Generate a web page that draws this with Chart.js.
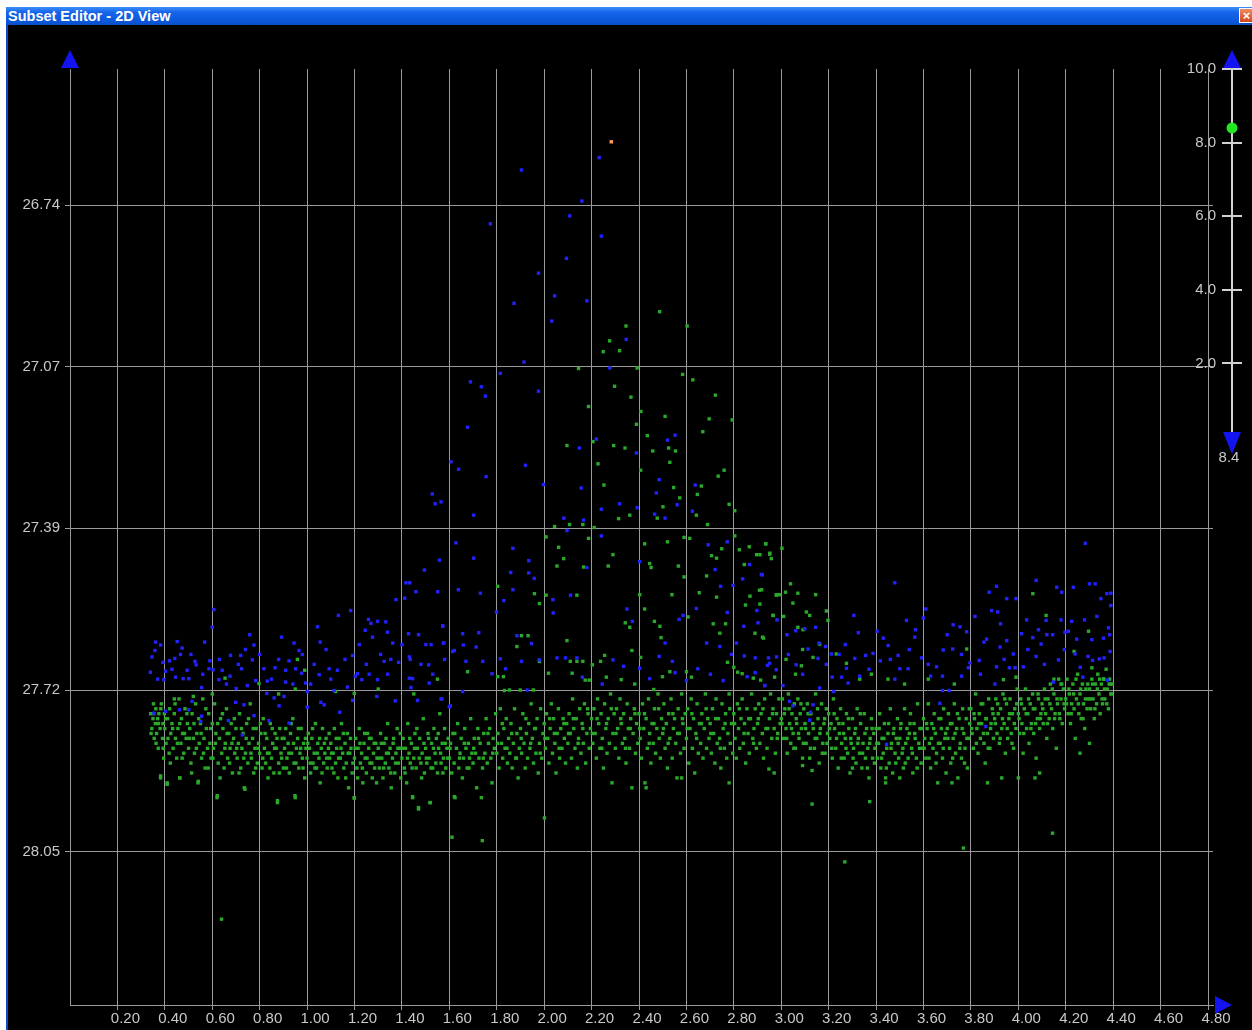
<!DOCTYPE html>
<html>
<head>
<meta charset="utf-8">
<title>Subset Editor - 2D View</title>
<script src="https://cdn.jsdelivr.net/npm/chart.js@4.4.1/dist/chart.umd.min.js"></script>
<style>
  body { margin: 0; background: #fff; width: 1252px; height: 1030px; position: relative; overflow: hidden; }
  #frame { position: absolute; left: 6px; top: 7px; width: 2px; height: 1023px; background: #1548c8; }
  #win { position: absolute; left: 8px; top: 25px; width: 1244px; height: 1005px; background: #000; }
  #titlebar {
    position: absolute; left: 6px; top: 7px; width: 1246px; height: 18px;
    background: linear-gradient(#3d8ef8 0%, #1664ea 30%, #0b59dc 75%, #0a4fc9 100%);
    color: #fff; font: bold 14.5px "Liberation Sans", Arial, sans-serif; line-height: 18px;
    padding-left: 2px; box-sizing: border-box; white-space: nowrap;
  }
  #closebtn {
    position: absolute; left: 1239px; top: 8px; width: 15px; height: 15px;
    background: linear-gradient(#ef8a62, #d4461e); border: 1px solid #fff; box-sizing: border-box;
    color: #fff; font: bold 13px "Liberation Sans", Arial, sans-serif; line-height: 13px; text-align: center;
  }
  #plot { position: absolute; left: 8px; top: 25px; }
  #slider { position: absolute; left: 1160px; top: 40px; }
</style>
</head>
<body>
<div id="frame"></div>
<div id="win"></div>
<div id="titlebar">Subset Editor - 2D View</div>
<div id="closebtn">×</div>
<canvas id="plot" width="1244" height="1005"></canvas>
<canvas id="slider" width="92" height="440"></canvas>
<script>
// axis ticks
const xTicks = [0.20, 0.40, 0.60, 0.80, 1.00, 1.20, 1.40, 1.60, 1.80, 2.00, 2.20, 2.40,
    2.60, 2.80, 3.00, 3.20, 3.40, 3.60, 3.80, 4.00, 4.20, 4.40, 4.60, 4.80];
const yTicks = [26.74, 27.0675, 27.394, 27.7225, 28.05];
const sliderTicks = [2, 4, 6, 8, 10];
const sliderValue = 8.4;

// selected point (orange)
const flaggedPoints = [[2.283, 26.612]];

// blue series [x, y]
const bluePoints = [
    // peak
    [2.232,26.644],[1.904,26.669],[2.159,26.732],[2.108,26.762],[1.773,26.778],[2.241,26.803],[2.094,26.848],
    [1.976,26.878],[2.044,26.924],[2.180,26.934],[1.873,26.939],[2.032,26.975],[2.346,27.012],[1.915,27.058],
    [1.815,27.081],[2.277,27.070],[1.689,27.098],[1.735,27.108],[1.752,27.127],[1.976,27.117],[1.677,27.190],
    [2.552,27.206],[2.520,27.216],[2.220,27.214],[2.148,27.232],[2.389,27.242],
    [1.528,27.325],[1.540,27.345],[1.433,27.505],[1.412,27.536],[1.495,27.479],[1.558,27.459],
    // middle
    [1.607,27.260],[1.639,27.275],[1.755,27.290],[1.921,27.267],[1.997,27.306],[2.156,27.313],[1.703,27.368],
    [1.565,27.341],[2.083,27.374],[2.166,27.378],[2.241,27.356],[2.318,27.345],[2.392,27.353],[2.485,27.296],
    [2.473,27.323],[2.561,27.347],[2.466,27.366],[2.510,27.374],[2.637,27.307],[2.625,27.360],[2.096,27.399],
    [1.628,27.424],[1.703,27.455],[1.868,27.435],[1.935,27.460],[2.241,27.410],[2.403,27.462],[2.180,27.474],
    [1.859,27.484],[1.958,27.496],[1.935,27.485],[1.638,27.519],[1.731,27.526],[1.868,27.519],[1.830,27.541],
    [2.037,27.539],[2.111,27.530],[2.038,27.566],[1.799,27.564],[1.572,27.593],[1.656,27.608],[1.724,27.606],
    [1.614,27.644],[1.659,27.631],[1.713,27.635],[1.577,27.627],[1.670,27.664],[1.741,27.664],[1.815,27.659],
    [1.904,27.664],[1.885,27.612],[1.946,27.628],[1.979,27.661],[1.780,27.689],[1.837,27.679],[2.054,27.657],
    [2.090,27.657],[2.138,27.657],[2.290,27.661],[2.335,27.674],[2.349,27.558],[2.372,27.583],[2.403,27.678],
    [2.485,27.654],[2.510,27.627],[2.541,27.664],[2.552,27.687],[2.445,27.699],[2.600,27.703],[2.648,27.679],
    [2.692,27.428],[2.772,27.422],[2.721,27.478],[2.744,27.512],[2.642,27.557],[2.586,27.571],[2.569,27.579],
    [2.685,27.627],[2.741,27.634],[2.772,27.565],[2.796,27.510],[2.837,27.497],[2.866,27.468],[2.916,27.488],
    [2.897,27.561],[2.842,27.593],[2.902,27.586],[2.811,27.627],[2.790,27.650],[2.844,27.653],[2.890,27.657],
    [2.942,27.672],[2.946,27.657],[2.980,27.655],[2.890,27.687],[2.856,27.695],[2.930,27.713],[2.755,27.703],
    [2.701,27.690],[1.928,27.722],[1.656,27.725],[1.565,27.740],[1.600,27.756],[2.245,27.710],[2.161,27.696],
    // left band
    [0.361,27.625],[0.382,27.631],[0.358,27.642],[0.346,27.655],[0.392,27.666],[0.420,27.663],[0.442,27.658],
    [0.452,27.624],[0.473,27.637],[0.466,27.650],[0.339,27.686],[0.403,27.684],[0.396,27.701],[0.445,27.696],
    [0.477,27.699],[0.501,27.699],[0.494,27.682],[0.527,27.664],[0.532,27.671],[0.568,27.625],[0.607,27.559],
    [0.600,27.595],[0.590,27.663],[0.586,27.679],[0.603,27.681],[0.555,27.717],[0.642,27.682],[0.628,27.701],
    [0.677,27.652],[0.720,27.652],[0.675,27.694],[0.701,27.719],[0.724,27.679],[0.758,27.610],[0.776,27.631],
    [0.769,27.661],[0.748,27.713],[0.783,27.703],[0.818,27.679],[0.832,27.704],[0.865,27.677],[0.892,27.615],
    [0.910,27.682],[0.945,27.627],[0.966,27.642],[0.924,27.663],[0.952,27.679],[0.910,27.706],[0.903,27.735],
    [0.830,27.729],[0.861,27.738],[0.882,27.754],[0.839,27.784],[0.776,27.774],[0.668,27.784],[0.699,27.747],
    [0.734,27.752],[0.515,27.745],[0.501,27.762],[0.555,27.775],[0.551,27.786],[0.462,27.762],[0.403,27.765],
    [0.354,27.769],[0.727,27.813],[0.924,27.789],[0.977,27.688],[0.994,27.708],[1.015,27.710],[1.051,27.691],
    [1.044,27.594],[1.055,27.625],[1.093,27.679],[1.128,27.682],[1.132,27.571],[1.184,27.561],[1.192,27.652],
    [1.203,27.694],[1.213,27.689],[1.170,27.716],[1.114,27.723],[1.001,27.725],[1.001,27.757],[1.058,27.747],
    [1.072,27.752],[1.138,27.767],[1.192,27.743],[1.259,27.579],[1.269,27.587],[1.297,27.583],[1.332,27.584],
    [1.245,27.601],[1.276,27.615],[1.339,27.605],[1.361,27.627],[1.325,27.664],[1.353,27.660],[1.386,27.666],
    [1.262,27.690],[1.297,27.701],[1.231,27.701],[1.294,27.735],[1.372,27.744],[1.375,27.539],[1.417,27.505],
    [1.459,27.523],[1.551,27.523],[1.572,27.592],[1.428,27.608],[1.470,27.610],[1.501,27.630],[1.523,27.630],
    [1.575,27.627],[1.621,27.642],[1.431,27.655],[1.435,27.660],[1.513,27.671],[1.431,27.698],[1.445,27.699],
    [1.515,27.708],[1.438,27.717],[1.466,27.743],[1.569,27.740],[1.604,27.754],
    [0.37,27.70],[0.43,27.68],[0.51,27.65],[0.56,27.69],[0.63,27.66],[0.66,27.71],[0.71,27.67],[0.74,27.64],
    [0.80,27.65],[0.85,27.70],[0.88,27.66],[0.94,27.71],[0.98,27.65],[1.03,27.67],[1.08,27.64],[1.10,27.70],
    [1.16,27.66],[1.22,27.63],[1.25,27.67],[1.31,27.65],[1.34,27.69],[1.40,27.63],[1.48,27.67],[1.53,27.69],
    [1.58,27.66],
    // right band
    [2.920,27.489],[2.982,27.580],[3.024,27.610],[2.951,27.668],[2.979,27.681],[2.930,27.713],[3.007,27.713],
    [3.063,27.671],[3.049,27.754],[3.035,27.745],[3.134,27.752],[3.123,27.767],[3.120,27.783],[3.061,27.602],
    [3.099,27.598],[3.145,27.595],[3.159,27.627],[3.113,27.639],[3.155,27.658],[3.187,27.634],[3.211,27.649],
    [3.244,27.650],[3.215,27.696],[3.254,27.696],[3.282,27.708],[3.162,27.718],[3.221,27.725],[3.306,27.571],
    [3.325,27.606],[3.275,27.678],[3.310,27.658],[3.331,27.694],[3.356,27.652],[3.387,27.648],[3.404,27.603],
    [3.430,27.617],[3.451,27.632],[3.479,27.505],[3.418,27.663],[3.479,27.700],[3.444,27.832],[3.528,27.581],
    [3.563,27.615],[3.566,27.600],[3.599,27.576],[3.610,27.558],[3.493,27.652],[3.500,27.679],[3.535,27.679],
    [3.592,27.657],[3.655,27.675],[3.683,27.641],[3.680,27.694],[3.630,27.694],[3.680,27.723],[3.708,27.723],
    [3.723,27.639],[3.725,27.590],[3.754,27.594],[3.782,27.604],[3.761,27.694],[3.669,27.749],[3.796,27.667],
    [3.789,27.677],[3.817,27.573],[3.835,27.662],[3.855,27.625],[3.866,27.619],[3.877,27.524],[3.908,27.512],
    [3.887,27.561],[3.913,27.564],[3.925,27.588],[3.923,27.635],[3.951,27.622],[3.951,27.537],[3.990,27.537],
    [3.979,27.649],[3.908,27.675],[3.962,27.677],[3.986,27.677],[3.901,27.710],[3.863,27.796],[4.021,27.675],
    [4.035,27.580],[4.014,27.608],[4.061,27.616],[4.075,27.500],[4.085,27.600],[4.096,27.629],[4.075,27.654],
    [4.117,27.581],[4.120,27.610],[4.145,27.610],[4.162,27.514],[4.183,27.524],[4.197,27.605],[4.211,27.603],
    [4.194,27.640],[4.169,27.661],[4.148,27.706],[4.282,27.425],[4.300,27.507],[4.232,27.514],[4.225,27.583],
    [4.279,27.580],[4.246,27.619],[4.239,27.649],[4.294,27.654],[4.261,27.676],[4.272,27.696],[4.331,27.573],
    [4.348,27.537],[4.373,27.527],[4.390,27.551],[4.380,27.596],[4.359,27.617],[4.385,27.610],[4.387,27.644],
    [4.362,27.657],[4.376,27.702],[4.341,27.659],[4.313,27.662],[4.390,27.526],[4.324,27.507],
    [3.03,27.65],[3.09,27.69],[3.19,27.67],[3.27,27.63],[3.37,27.68],[3.46,27.66],[3.54,27.64],[3.62,27.67],
    [3.70,27.61],[3.76,27.65],[3.84,27.69],[3.94,27.66],[4.04,27.64],[4.11,27.67],[4.18,27.58],[4.31,27.62]
];

// green series [x, y]
const greenPoints = [
    // peak
    [2.487,26.956],[2.345,26.985],[2.603,26.985],[2.276,27.015],[2.249,27.037],[2.318,27.035],[2.145,27.071],
    [2.392,27.070],[2.584,27.083],[2.627,27.094],[2.297,27.107],[2.366,27.129],[2.722,27.125],[2.187,27.148],
    [2.408,27.158],[2.510,27.168],[2.696,27.173],[2.793,27.175],[2.389,27.184],[2.669,27.199],[2.435,27.207],
    [2.206,27.219],[2.096,27.227],[2.293,27.227],[2.341,27.232],[2.458,27.238],[2.525,27.232],[2.554,27.238],
    // middle
    [2.227,27.264],[2.252,27.307],[2.407,27.277],[2.530,27.261],[2.546,27.312],[2.572,27.333],[2.646,27.326],
    [2.663,27.309],[2.734,27.289],[2.759,27.277],[2.780,27.346],[2.804,27.359],[2.642,27.368],[2.689,27.387],
    [2.501,27.351],[2.477,27.374],[2.361,27.368],[2.314,27.375],[2.044,27.391],[2.107,27.387],[2.163,27.387],
    [2.211,27.393],[2.008,27.412],[2.187,27.415],[2.061,27.433],[2.082,27.456],[2.054,27.471],[2.166,27.473],
    [2.290,27.448],[2.270,27.471],[2.445,27.466],[2.451,27.474],[2.424,27.426],[2.520,27.422],[2.590,27.413],
    [2.614,27.415],[2.566,27.471],[2.590,27.493],[2.539,27.529],[2.403,27.529],[2.424,27.558],[2.342,27.586],
    [2.361,27.595],[2.465,27.583],[2.488,27.593],[2.493,27.616],[2.370,27.642],[2.407,27.656],[2.607,27.574],
    [2.685,27.491],[2.706,27.450],[2.727,27.455],[2.749,27.436],[2.804,27.410],[2.823,27.438],[2.844,27.468],
    [2.865,27.432],[2.896,27.448],[2.910,27.448],[2.935,27.426],[2.952,27.445],[2.849,27.550],[2.868,27.532],
    [2.917,27.519],[2.910,27.548],[2.889,27.607],[2.921,27.615],[2.966,27.571],[2.980,27.530],[2.654,27.525],
    [2.727,27.534],[2.713,27.588],[2.765,27.588],[2.741,27.607],[2.773,27.666],[2.800,27.676],[2.816,27.686],
    [2.835,27.689],[2.882,27.698],[2.913,27.702],[2.600,27.685],[2.621,27.696],[2.530,27.685],[2.499,27.695],
    [2.462,27.721],[2.382,27.710],[2.325,27.701],[2.262,27.696],[2.238,27.664],[2.255,27.652],[2.203,27.671],
    [2.173,27.702],[2.190,27.702],[2.163,27.664],[2.138,27.664],[2.110,27.664],[2.118,27.688],[2.018,27.688],
    [1.980,27.664],[1.959,27.527],[1.980,27.547],[2.008,27.530],[2.138,27.530],[1.804,27.512],[2.096,27.622],
    [1.885,27.634],[1.904,27.612],[1.932,27.612],[1.677,27.685],[1.804,27.695],[1.828,27.695],[1.832,27.723],
    [1.854,27.722],[1.899,27.722],[1.954,27.722],
    // shoulder and upper edge of the band
    [2.908,27.520],[2.934,27.426],[2.951,27.447],[2.958,27.456],[3.003,27.435],[2.979,27.529],[2.993,27.529],
    [3.018,27.524],[3.039,27.507],[3.070,27.526],[3.145,27.529],[3.049,27.546],[3.106,27.564],[3.120,27.571],
    [3.190,27.562],[3.197,27.581],[3.070,27.595],[3.092,27.600],[2.925,27.617],[3.162,27.629],[2.965,27.571],
    [3.010,27.573],[3.232,27.649],[3.134,27.656],[3.085,27.673],[2.972,27.696],[3.275,27.668],[3.331,27.700],
    [3.38,27.69],[3.45,27.70],[3.52,27.71],[3.62,27.70],[3.782,27.639],[3.937,27.701],[3.990,27.696],
    [4.061,27.527],[4.117,27.571],[4.296,27.603],[4.235,27.644],[4.310,27.677],[4.15,27.70],[4.18,27.71],
    [4.36,27.70],[4.39,27.71],[3.73,27.71],
    [0.959,27.660],[0.990,27.682],[0.797,27.709],[0.654,27.698],[0.95,27.72],[1.12,27.725],[1.199,27.729],
    [0.60,27.73],[0.52,27.735],[0.44,27.74],[1.30,27.72],[1.45,27.73],[1.55,27.70],[0.88,27.73],
    // outliers
    [0.382,27.896],[0.410,27.913],[0.463,27.900],[0.541,27.907],[0.621,27.936],[0.738,27.923],[0.875,27.946],
    [0.949,27.936],[1.199,27.941],[1.470,27.963],[1.518,27.950],[1.621,27.938],[1.611,28.020],[1.445,27.938],
    [0.639,28.186],[1.739,28.027],[2.001,27.981],[2.286,27.91],[2.43,27.92],[2.58,27.90],[2.78,27.91],
    [2.97,27.89],[3.130,27.953],[3.373,27.948],[3.268,28.070],[3.768,28.042],[4.144,28.012],[2.948,27.882],
    [3.09,27.875],[3.13,27.885],[3.30,27.88],[3.44,27.90],[3.50,27.90],[3.72,27.91],[3.93,27.90],[4.00,27.90],
    [4.07,27.90],[4.09,27.89],[3.87,27.91],[4.26,27.85],[4.30,27.83],
    // main band
    [0.34,27.77],[0.345,27.80],[0.35,27.78],[0.352,27.75],[0.355,27.82],[0.36,27.79],[0.362,27.76],[0.365,27.81],
    [0.37,27.78],[0.372,27.84],[0.375,27.77],[0.38,27.80],[0.382,27.90],[0.385,27.75],[0.39,27.82],[0.392,27.79],
    [0.395,27.86],[0.398,27.77],
    [0.40,27.80],[0.405,27.83],[0.41,27.91],[0.412,27.78],[0.418,27.85],[0.42,27.76],[0.425,27.81],[0.43,27.79],
    [0.435,27.84],[0.44,27.77],[0.445,27.82],[0.45,27.86],[0.455,27.80],[0.46,27.74],[0.463,27.90],[0.468,27.83],
    [0.47,27.78],[0.475,27.81],[0.48,27.85],[0.485,27.76],[0.49,27.82],[0.495,27.79],
    [0.50,27.84],[0.505,27.80],[0.51,27.87],[0.515,27.77],[0.52,27.82],[0.525,27.85],[0.53,27.75],[0.535,27.81],
    [0.54,27.91],[0.545,27.83],[0.55,27.79],[0.555,27.86],[0.56,27.74],[0.565,27.82],[0.57,27.88],[0.575,27.80],
    [0.58,27.84],[0.585,27.77],[0.59,27.83],[0.595,27.86],
    [0.60,27.79],[0.605,27.84],[0.61,27.75],[0.615,27.81],[0.62,27.94],[0.625,27.87],[0.63,27.82],[0.635,27.78],
    [0.64,27.85],[0.645,27.80],[0.65,27.88],[0.655,27.83],[0.66,27.76],[0.665,27.86],[0.67,27.81],[0.675,27.84],
    [0.68,27.79],[0.685,27.89],[0.69,27.82],[0.695,27.85],
    [0.70,27.80],[0.705,27.86],[0.71,27.83],[0.715,27.77],[0.72,27.88],[0.725,27.84],[0.73,27.81],[0.735,27.92],
    [0.74,27.85],[0.745,27.79],[0.75,27.87],[0.755,27.83],[0.76,27.75],[0.765,27.86],[0.77,27.82],[0.775,27.89],
    [0.78,27.84],[0.785,27.80],[0.79,27.87],[0.795,27.83],
    [0.80,27.85],[0.805,27.81],[0.81,27.88],[0.815,27.78],[0.82,27.84],[0.825,27.87],[0.83,27.82],[0.835,27.90],
    [0.84,27.85],[0.845,27.79],[0.85,27.86],[0.855,27.83],[0.86,27.89],[0.865,27.81],[0.87,27.84],[0.875,27.95],
    [0.88,27.87],[0.885,27.80],[0.89,27.85],[0.895,27.82],
    [0.90,27.88],[0.905,27.84],[0.91,27.80],[0.915,27.86],[0.92,27.83],[0.925,27.89],[0.93,27.81],[0.935,27.85],
    [0.94,27.78],[0.945,27.87],[0.95,27.94],[0.955,27.84],[0.96,27.82],[0.965,27.88],[0.97,27.85],[0.975,27.80],
    [0.98,27.86],[0.985,27.83],[0.99,27.90],[0.995,27.84],
    [1.00,27.86],[1.005,27.81],[1.01,27.84],[1.015,27.89],[1.02,27.82],[1.025,27.87],[1.03,27.85],[1.035,27.79],
    [1.04,27.88],[1.045,27.83],[1.05,27.86],[1.055,27.91],[1.06,27.84],[1.065,27.80],[1.07,27.87],[1.075,27.85],
    [1.08,27.82],[1.085,27.88],[1.09,27.84],[1.095,27.86],
    [1.10,27.83],[1.105,27.88],[1.11,27.85],[1.115,27.80],[1.12,27.87],[1.125,27.84],[1.13,27.90],[1.135,27.82],
    [1.14,27.86],[1.145,27.79],[1.15,27.85],[1.155,27.88],[1.16,27.83],[1.165,27.87],[1.17,27.81],[1.175,27.92],
    [1.18,27.85],[1.185,27.84],[1.19,27.89],[1.199,27.94],
    [1.20,27.86],[1.205,27.82],[1.21,27.88],[1.215,27.84],[1.22,27.80],[1.225,27.87],[1.23,27.85],[1.235,27.91],
    [1.24,27.83],[1.245,27.86],[1.25,27.89],[1.255,27.81],[1.26,27.84],[1.265,27.87],[1.27,27.82],[1.275,27.90],
    [1.28,27.85],[1.285,27.88],[1.29,27.83],[1.295,27.86],
    [1.30,27.84],[1.305,27.88],[1.31,27.81],[1.315,27.86],[1.32,27.90],[1.325,27.83],[1.33,27.87],[1.335,27.85],
    [1.34,27.79],[1.345,27.88],[1.35,27.84],[1.355,27.92],[1.36,27.86],[1.365,27.82],[1.37,27.89],[1.375,27.85],
    [1.38,27.80],[1.385,27.87],[1.39,27.84],[1.395,27.90],
    [1.40,27.86],[1.405,27.82],[1.41,27.88],[1.415,27.84],[1.42,27.91],[1.425,27.79],[1.43,27.85],[1.435,27.87],
    [1.44,27.83],[1.445,27.94],[1.45,27.86],[1.455,27.81],[1.46,27.88],[1.465,27.84],[1.47,27.96],[1.475,27.82],
    [1.48,27.87],[1.485,27.85],[1.49,27.78],[1.495,27.89],
    [1.50,27.84],[1.505,27.87],[1.51,27.81],[1.515,27.86],[1.52,27.95],[1.525,27.83],[1.53,27.88],[1.535,27.80],
    [1.54,27.85],[1.545,27.82],[1.55,27.89],[1.555,27.84],[1.56,27.77],[1.565,27.87],[1.57,27.83],[1.575,27.86],
    [1.58,27.80],[1.585,27.88],[1.59,27.84],[1.595,27.82],
    [1.60,27.86],[1.605,27.83],[1.61,27.89],[1.615,27.81],[1.62,27.87],[1.624,27.94],[1.63,27.84],[1.635,27.79],
    [1.64,27.88],[1.645,27.85],[1.65,27.82],[1.655,27.90],[1.66,27.86],[1.665,27.80],[1.67,27.84],[1.675,27.88],
    [1.68,27.83],[1.685,27.86],[1.69,27.78],[1.695,27.85],
    [1.70,27.87],[1.705,27.82],[1.71,27.85],[1.715,27.92],[1.72,27.80],[1.725,27.86],[1.73,27.83],[1.735,27.94],
    [1.74,27.88],[1.745,27.81],[1.75,27.85],[1.755,27.78],[1.76,27.87],[1.765,27.83],[1.77,27.80],[1.775,27.86],
    [1.78,27.91],[1.785,27.82],[1.79,27.84],[1.795,27.77],
    [1.80,27.85],[1.805,27.81],[1.81,27.88],[1.815,27.76],[1.82,27.83],[1.825,27.86],[1.83,27.80],[1.835,27.84],
    [1.84,27.78],[1.845,27.87],[1.85,27.82],[1.855,27.85],[1.86,27.79],[1.865,27.88],[1.87,27.83],[1.875,27.76],
    [1.88,27.86],[1.885,27.81],[1.89,27.90],[1.895,27.84],
    [1.90,27.80],[1.905,27.85],[1.91,27.77],[1.915,27.83],[1.92,27.88],[1.925,27.81],[1.93,27.86],[1.935,27.79],
    [1.94,27.84],[1.945,27.75],[1.95,27.82],[1.955,27.87],[1.96,27.80],[1.965,27.85],[1.97,27.78],[1.975,27.89],
    [1.98,27.83],[1.985,27.76],[1.99,27.86],[1.995,27.81],
    [2.00,27.79],[2.005,27.84],[2.01,27.77],[2.015,27.82],[2.02,27.87],[2.025,27.80],[2.03,27.75],[2.035,27.85],
    [2.04,27.78],[2.045,27.83],[2.05,27.89],[2.055,27.81],[2.06,27.76],[2.065,27.86],[2.07,27.80],[2.075,27.84],
    [2.08,27.78],[2.085,27.82],[2.09,27.87],[2.095,27.79],
    [2.10,27.83],[2.105,27.77],[2.11,27.81],[2.115,27.86],[2.12,27.74],[2.125,27.80],[2.13,27.84],[2.135,27.78],
    [2.14,27.88],[2.145,27.82],[2.15,27.76],[2.155,27.85],[2.16,27.79],[2.165,27.83],[2.17,27.75],[2.175,27.87],
    [2.18,27.81],[2.185,27.77],[2.19,27.84],[2.195,27.80],
    [2.20,27.78],[2.205,27.83],[2.21,27.76],[2.215,27.81],[2.22,27.86],[2.225,27.74],[2.23,27.79],[2.235,27.84],
    [2.24,27.77],[2.245,27.82],[2.25,27.88],[2.255,27.75],[2.26,27.80],[2.265,27.85],[2.27,27.78],[2.275,27.83],
    [2.28,27.73],[2.29,27.81],[2.295,27.77],
    [2.30,27.84],[2.305,27.76],[2.31,27.80],[2.315,27.86],[2.32,27.74],[2.325,27.79],[2.33,27.83],[2.335,27.77],
    [2.34,27.82],[2.345,27.87],[2.35,27.75],[2.355,27.80],[2.36,27.84],[2.365,27.78],[2.37,27.92],[2.375,27.81],
    [2.38,27.76],[2.385,27.85],[2.39,27.79],[2.395,27.83],
    [2.40,27.77],[2.405,27.82],[2.41,27.86],[2.415,27.75],[2.42,27.80],[2.425,27.91],[2.43,27.78],[2.435,27.84],
    [2.44,27.74],[2.445,27.81],[2.45,27.87],[2.455,27.79],[2.46,27.83],[2.465,27.76],[2.47,27.85],[2.475,27.80],
    [2.48,27.73],[2.485,27.82],[2.49,27.86],[2.495,27.78],
    [2.50,27.81],[2.505,27.75],[2.51,27.84],[2.515,27.79],[2.52,27.88],[2.525,27.77],[2.53,27.82],[2.535,27.74],
    [2.54,27.86],[2.545,27.80],[2.55,27.78],[2.555,27.83],[2.56,27.90],[2.565,27.76],[2.57,27.81],[2.575,27.85],
    [2.58,27.73],[2.585,27.79],[2.59,27.84],[2.595,27.77],
    [2.60,27.82],[2.605,27.76],[2.61,27.87],[2.615,27.80],[2.62,27.74],[2.625,27.84],[2.63,27.78],[2.635,27.89],
    [2.64,27.81],[2.645,27.75],[2.65,27.85],[2.655,27.79],[2.66,27.83],[2.665,27.77],[2.67,27.86],[2.675,27.80],
    [2.68,27.73],[2.685,27.84],[2.69,27.78],[2.695,27.82],
    [2.70,27.79],[2.705,27.85],[2.71,27.76],[2.715,27.81],[2.72,27.87],[2.725,27.74],[2.73,27.83],[2.735,27.78],
    [2.74,27.82],[2.745,27.88],[2.75,27.75],[2.755,27.80],[2.76,27.84],[2.765,27.77],[2.77,27.86],[2.775,27.81],
    [2.78,27.73],[2.785,27.83],[2.79,27.79],[2.795,27.85],
    [2.80,27.77],[2.805,27.82],[2.81,27.86],[2.815,27.75],[2.82,27.80],[2.825,27.84],[2.83,27.78],[2.835,27.74],
    [2.84,27.83],[2.845,27.79],[2.85,27.87],[2.855,27.76],[2.86,27.81],[2.865,27.85],[2.87,27.78],[2.875,27.73],
    [2.88,27.82],[2.885,27.80],[2.89,27.76],[2.895,27.84],
    [2.90,27.79],[2.905,27.75],[2.91,27.83],[2.915,27.77],[2.92,27.81],[2.925,27.86],[2.93,27.74],[2.935,27.80],
    [2.94,27.84],[2.95,27.78],[2.955,27.73],[2.96,27.82],[2.965,27.76],[2.97,27.80],[2.975,27.85],[2.98,27.77],
    [2.985,27.81],[2.99,27.74],[2.995,27.79],
    [3.00,27.78],[3.005,27.74],[3.01,27.82],[3.015,27.76],[3.02,27.80],[3.025,27.85],[3.03,27.73],[3.035,27.79],
    [3.04,27.83],[3.045,27.77],[3.05,27.81],[3.055,27.75],[3.06,27.84],[3.065,27.79],[3.07,27.74],[3.075,27.82],
    [3.08,27.77],[3.085,27.80],[3.09,27.86],[3.095,27.76],[3.02,27.66],[3.06,27.69],[3.09,27.64],
    [3.10,27.79],[3.105,27.83],[3.11,27.75],[3.115,27.81],[3.12,27.86],[3.125,27.77],[3.135,27.80],[3.14,27.84],
    [3.145,27.73],[3.15,27.82],[3.155,27.78],[3.16,27.87],[3.165,27.80],[3.17,27.75],[3.175,27.83],[3.18,27.79],
    [3.185,27.85],[3.19,27.76],[3.195,27.81],
    [3.20,27.77],[3.205,27.82],[3.21,27.79],[3.215,27.86],[3.22,27.74],[3.225,27.80],[3.23,27.84],[3.235,27.78],
    [3.24,27.88],[3.245,27.81],[3.25,27.76],[3.255,27.83],[3.26,27.79],[3.265,27.86],[3.27,27.82],[3.275,27.77],
    [3.28,27.85],[3.285,27.80],[3.29,27.89],[3.295,27.83],
    [3.30,27.78],[3.305,27.84],[3.31,27.81],[3.315,27.87],[3.32,27.76],[3.325,27.82],[3.33,27.85],[3.335,27.79],
    [3.34,27.88],[3.345,27.83],[3.35,27.77],[3.355,27.86],[3.36,27.80],[3.365,27.84],[3.37,27.90],[3.375,27.82],
    [3.38,27.78],[3.385,27.86],[3.39,27.81],[3.395,27.84],
    [3.40,27.80],[3.405,27.86],[3.41,27.83],[3.415,27.77],[3.42,27.88],[3.425,27.82],[3.43,27.85],[3.435,27.79],
    [3.44,27.91],[3.445,27.84],[3.45,27.81],[3.455,27.87],[3.46,27.76],[3.465,27.83],[3.47,27.89],[3.475,27.80],
    [3.48,27.85],[3.485,27.82],[3.49,27.78],[3.495,27.86],
    [3.50,27.82],[3.505,27.79],[3.51,27.85],[3.515,27.88],[3.52,27.76],[3.525,27.83],[3.53,27.80],[3.535,27.86],
    [3.54,27.81],[3.545,27.77],[3.55,27.84],[3.555,27.89],[3.56,27.79],[3.565,27.82],[3.57,27.86],[3.575,27.75],
    [3.58,27.83],[3.585,27.80],[3.59,27.87],[3.595,27.84],
    [3.60,27.78],[3.605,27.82],[3.61,27.86],[3.615,27.80],[3.62,27.75],[3.625,27.83],[3.63,27.88],[3.635,27.79],
    [3.64,27.84],[3.645,27.77],[3.65,27.81],[3.655,27.85],[3.66,27.91],[3.665,27.78],[3.67,27.83],[3.675,27.80],
    [3.68,27.86],[3.685,27.76],[3.69,27.82],[3.695,27.89],
    [3.70,27.80],[3.705,27.77],[3.71,27.84],[3.715,27.87],[3.72,27.79],[3.725,27.82],[3.73,27.75],[3.735,27.85],
    [3.74,27.80],[3.745,27.90],[3.75,27.78],[3.755,27.83],[3.76,27.86],[3.765,27.76],[3.77,27.81],[3.775,27.84],
    [3.78,27.78],[3.785,27.88],[3.79,27.82],[3.795,27.79],
    [3.80,27.76],[3.805,27.81],[3.81,27.84],[3.815,27.78],[3.82,27.73],[3.825,27.80],[3.83,27.85],[3.835,27.77],
    [3.84,27.82],[3.845,27.79],[3.85,27.75],[3.855,27.83],[3.86,27.87],[3.865,27.78],[3.87,27.81],[3.875,27.74],
    [3.88,27.84],[3.885,27.79],[3.89,27.76],[3.895,27.82],
    [3.90,27.78],[3.905,27.74],[3.91,27.81],[3.915,27.77],[3.92,27.83],[3.925,27.76],[3.93,27.80],[3.935,27.73],
    [3.94,27.79],[3.945,27.85],[3.95,27.75],[3.955,27.82],[3.96,27.78],[3.965,27.74],[3.97,27.81],[3.975,27.77],
    [3.98,27.84],[3.985,27.76],[3.99,27.80],[3.995,27.72],
    [4.00,27.77],[4.005,27.81],[4.01,27.74],[4.015,27.79],[4.02,27.85],[4.025,27.76],[4.03,27.72],[4.035,27.80],
    [4.04,27.77],[4.045,27.83],[4.05,27.75],[4.055,27.79],[4.06,27.73],[4.065,27.81],[4.07,27.76],[4.075,27.86],
    [4.08,27.78],[4.085,27.74],[4.09,27.80],[4.095,27.77],
    [4.10,27.75],[4.105,27.79],[4.11,27.72],[4.115,27.77],[4.12,27.82],[4.125,27.74],[4.13,27.78],[4.135,27.71],
    [4.14,27.76],[4.145,27.80],[4.15,27.73],[4.155,27.77],[4.16,27.84],[4.165,27.75],[4.17,27.70],[4.175,27.78],
    [4.18,27.74],[4.185,27.79],[4.19,27.72],[4.195,27.76],
    [4.20,27.74],[4.205,27.70],[4.21,27.77],[4.215,27.73],[4.22,27.79],[4.225,27.75],[4.23,27.71],[4.235,27.76],
    [4.24,27.82],[4.245,27.74],[4.25,27.69],[4.255,27.77],[4.26,27.73],[4.265,27.78],[4.27,27.71],[4.275,27.75],
    [4.28,27.80],[4.285,27.72],[4.29,27.76],[4.295,27.74],
    [4.30,27.72],[4.305,27.76],[4.31,27.70],[4.315,27.74],[4.32,27.78],[4.325,27.71],[4.33,27.75],[4.335,27.69],
    [4.34,27.73],[4.345,27.77],[4.35,27.71],[4.355,27.75],[4.36,27.70],[4.365,27.74],[4.37,27.68],[4.375,27.72],
    [4.38,27.76],[4.385,27.70],[4.39,27.73],[4.395,27.71],
    // main band, second pass
    [0.342,27.81],[0.353,27.77],[0.363,27.83],[0.373,27.79],[0.383,27.76],[0.393,27.84],[0.403,27.78],[0.413,27.82],
    [0.423,27.87],[0.433,27.80],[0.443,27.75],[0.453,27.83],[0.463,27.79],[0.473,27.86],[0.483,27.81],[0.493,27.77],
    [0.503,27.82],[0.513,27.89],[0.523,27.79],[0.533,27.84],[0.543,27.78],[0.553,27.81],[0.563,27.85],[0.573,27.76],
    [0.583,27.88],[0.593,27.80],[0.603,27.86],[0.613,27.83],[0.623,27.79],[0.633,27.90],[0.643,27.77],[0.653,27.84],
    [0.663,27.81],[0.673,27.87],[0.683,27.83],[0.693,27.78],[0.703,27.84],[0.713,27.89],[0.723,27.80],[0.733,27.86],
    [0.743,27.82],[0.753,27.78],[0.763,27.85],[0.773,27.80],[0.783,27.88],[0.793,27.84],[0.803,27.79],[0.813,27.86],
    [0.823,27.81],[0.833,27.85],[0.843,27.88],[0.853,27.80],[0.863,27.84],[0.873,27.82],[0.883,27.89],[0.893,27.86],
    [0.903,27.82],[0.913,27.88],[0.923,27.85],[0.933,27.79],[0.943,27.83],[0.953,27.87],[0.963,27.80],[0.973,27.84],
    [0.983,27.88],[0.993,27.82],[1.003,27.83],[1.013,27.87],[1.023,27.80],[1.033,27.88],[1.043,27.85],[1.053,27.82],
    [1.063,27.89],[1.073,27.83],[1.083,27.86],[1.093,27.81],[1.103,27.85],[1.113,27.89],[1.123,27.82],[1.133,27.86],
    [1.143,27.84],[1.153,27.81],[1.163,27.90],[1.173,27.85],[1.183,27.82],[1.193,27.87],[1.203,27.84],[1.213,27.90],
    [1.223,27.83],[1.233,27.88],[1.243,27.81],[1.253,27.86],[1.263,27.82],[1.273,27.87],[1.283,27.83],[1.293,27.91],
    [1.303,27.86],[1.313,27.83],[1.323,27.88],[1.333,27.82],[1.343,27.85],[1.353,27.89],[1.363,27.83],[1.373,27.87],
    [1.383,27.84],[1.393,27.81],[1.403,27.84],[1.413,27.89],[1.423,27.86],[1.433,27.82],[1.443,27.88],[1.453,27.84],
    [1.463,27.80],[1.473,27.86],[1.483,27.90],[1.493,27.83],[1.503,27.86],[1.513,27.82],[1.523,27.88],[1.533,27.84],
    [1.543,27.87],[1.553,27.81],[1.563,27.85],[1.573,27.89],[1.583,27.83],[1.593,27.86],
    [1.603,27.84],[1.623,27.81],[1.643,27.86],[1.663,27.83],[1.683,27.88],[1.703,27.84],[1.723,27.82],[1.743,27.86],
    [1.763,27.81],[1.783,27.85],[1.803,27.83],[1.823,27.79],[1.843,27.84],[1.863,27.81],[1.883,27.86],[1.903,27.82],
    [1.923,27.78],[1.943,27.83],[1.963,27.80],[1.983,27.85],[2.003,27.82],[2.023,27.78],[2.043,27.81],[2.063,27.84],
    [2.083,27.79],[2.103,27.81],[2.123,27.78],[2.143,27.83],[2.163,27.80],[2.183,27.76],[2.203,27.81],[2.223,27.78],
    [2.243,27.84],[2.263,27.79],[2.283,27.76],[2.303,27.81],[2.323,27.78],[2.343,27.84],[2.363,27.80],[2.383,27.77],
    [2.403,27.80],[2.423,27.77],[2.443,27.83],[2.463,27.79],[2.483,27.76],[2.503,27.80],[2.523,27.83],[2.543,27.77],
    [2.563,27.81],[2.583,27.78],[2.603,27.80],[2.623,27.77],[2.643,27.82],[2.663,27.79],[2.683,27.76],[2.703,27.81],
    [2.723,27.78],[2.743,27.84],[2.763,27.79],[2.783,27.76],[2.803,27.79],[2.823,27.76],[2.843,27.81],[2.863,27.78],
    [2.883,27.83],[2.903,27.78],[2.923,27.76],[2.943,27.80],[2.963,27.77],[2.983,27.82],
    [3.003,27.79],[3.013,27.77],[3.023,27.82],[3.033,27.76],[3.043,27.80],[3.053,27.84],[3.063,27.78],[3.073,27.81],
    [3.083,27.75],[3.093,27.83],[3.103,27.80],[3.113,27.77],[3.123,27.84],[3.133,27.79],[3.143,27.82],[3.153,27.76],
    [3.163,27.81],[3.173,27.85],[3.183,27.78],[3.193,27.83],[3.203,27.80],[3.213,27.84],[3.223,27.77],[3.233,27.82],
    [3.243,27.79],[3.253,27.86],[3.263,27.81],[3.273,27.84],[3.283,27.78],[3.293,27.82],[3.303,27.86],[3.313,27.80],
    [3.323,27.83],[3.333,27.77],[3.343,27.85],[3.353,27.81],[3.363,27.88],[3.373,27.83],[3.383,27.80],[3.393,27.87],
    [3.403,27.83],[3.413,27.80],[3.423,27.86],[3.433,27.82],[3.443,27.88],[3.453,27.79],[3.463,27.84],[3.473,27.81],
    [3.483,27.87],[3.493,27.83],[3.503,27.80],[3.513,27.84],[3.523,27.87],[3.533,27.82],[3.543,27.79],[3.553,27.85],
    [3.563,27.81],[3.573,27.88],[3.583,27.84],[3.593,27.80],[3.603,27.84],[3.613,27.79],[3.623,27.86],[3.633,27.82],
    [3.643,27.80],[3.653,27.87],[3.663,27.83],[3.673,27.78],[3.683,27.84],[3.693,27.81],[3.703,27.82],[3.713,27.79],
    [3.723,27.86],[3.733,27.81],[3.743,27.77],[3.753,27.84],[3.763,27.80],[3.773,27.87],[3.783,27.82],[3.793,27.76],
    [3.803,27.80],[3.813,27.77],[3.823,27.83],[3.833,27.79],[3.843,27.75],[3.853,27.81],[3.863,27.78],[3.873,27.84],
    [3.883,27.80],[3.893,27.77],[3.903,27.79],[3.913,27.75],[3.923,27.82],[3.933,27.78],[3.943,27.74],[3.953,27.80],
    [3.963,27.77],[3.973,27.83],[3.983,27.79],[3.993,27.75],[4.003,27.78],[4.013,27.75],[4.023,27.81],[4.033,27.77],
    [4.043,27.74],[4.053,27.80],[4.063,27.76],[4.073,27.79],[4.083,27.73],[4.093,27.78],[4.103,27.76],[4.113,27.74],
    [4.123,27.79],[4.133,27.75],[4.143,27.72],[4.153,27.78],[4.163,27.74],[4.173,27.77],[4.183,27.71],[4.193,27.75],
    [4.203,27.75],[4.213,27.72],[4.223,27.77],[4.233,27.73],[4.243,27.70],[4.253,27.75],[4.263,27.72],[4.273,27.78],
    [4.283,27.74],[4.293,27.71],[4.303,27.74],[4.313,27.71],[4.323,27.76],[4.333,27.72],[4.343,27.70],[4.353,27.74],
    [4.363,27.72],[4.373,27.75],[4.383,27.71],[4.393,27.73]
];

const fontFamily = '"Liberation Sans", Arial, sans-serif';
const labelColor = '#c8c8c8';
const gridColor = '#9a9a9a';
const arrowColor = '#1414f0';

const toXY = (pairs) => pairs.map(([x, y]) => ({ x: x, y: y }));

function triangle(ctx, a, b, c) {
    ctx.beginPath();
    ctx.moveTo(a[0], a[1]);
    ctx.lineTo(b[0], b[1]);
    ctx.lineTo(c[0], c[1]);
    ctx.closePath();
    ctx.fill();
}

const axisArrows = {
    id: 'axisArrows',
    afterDraw(chart) {
        const { ctx, chartArea } = chart;
        ctx.save();
        ctx.fillStyle = arrowColor;
        // up arrow on top of the y axis
        triangle(ctx, [chartArea.left - 9, chartArea.top - 1], [chartArea.left + 9, chartArea.top - 1], [chartArea.left, chartArea.top - 19]);
        // right arrow at the end of the x axis
        triangle(ctx, [chartArea.right + 2, chartArea.bottom - 9], [chartArea.right + 2, chartArea.bottom + 9], [chartArea.right + 19, chartArea.bottom]);
        ctx.restore();
    }
};

const sliderDecor = {
    id: 'sliderDecor',
    afterDraw(chart) {
        const { ctx, chartArea } = chart;
        const x = chartArea.left;
        ctx.save();
        ctx.fillStyle = arrowColor;
        triangle(ctx, [x - 9, chartArea.top - 1], [x + 9, chartArea.top - 1], [x, chartArea.top - 19]);
        triangle(ctx, [x - 9, chartArea.bottom - 5], [x + 9, chartArea.bottom - 5], [x, chartArea.bottom + 17]);
        ctx.fillStyle = labelColor;
        ctx.font = '15px ' + fontFamily;
        ctx.textAlign = 'center';
        ctx.textBaseline = 'middle';
        ctx.fillText(sliderValue.toFixed(1), x - 3, chartArea.bottom + 21);
        ctx.restore();
    }
};

new Chart(document.getElementById('plot'), {
    type: 'scatter',
    data: {
        datasets: [
            {
                data: toXY(flaggedPoints),
                backgroundColor: '#ff9a55',
                pointStyle: 'rect',
                pointRadius: 2.4,
                borderWidth: 0,
                order: 0,
                clip: false
            },
            {
                data: toXY(bluePoints),
                backgroundColor: '#2222ff',
                pointStyle: 'rect',
                pointRadius: 2.4,
                borderWidth: 0,
                order: 1,
                clip: false
            },
            {
                data: toXY(greenPoints),
                backgroundColor: '#2aa82a',
                pointStyle: 'rect',
                pointRadius: 2.4,
                borderWidth: 0,
                order: 2,
                clip: false
            }
        ]
    },
    options: {
        responsive: false,
        animation: false,
        devicePixelRatio: 1,
        events: [],
        layout: { padding: { top: 44, right: 39, bottom: 0, left: 0 } },
        plugins: {
            legend: { display: false },
            tooltip: { enabled: false }
        },
        scales: {
            x: {
                type: 'linear',
                position: 'bottom',
                min: 0,
                max: 4.821,
                afterBuildTicks: (scale) => { scale.ticks = xTicks.map((value) => ({ value })); },
                afterFit: (scale) => { scale.height = 25; },
                ticks: {
                    color: labelColor,
                    font: { family: fontFamily, size: 15 },
                    padding: 0,
                    labelOffset: 8,
                    maxRotation: 0,
                    autoSkip: false,
                    callback: (value) => value.toFixed(2)
                },
                grid: { color: gridColor, lineWidth: 1, tickLength: 5 },
                border: { color: gridColor, width: 1 }
            },
            y: {
                type: 'linear',
                position: 'left',
                reverse: true,
                min: 26.4646,
                max: 28.3598,
                afterBuildTicks: (scale) => { scale.ticks = yTicks.map((value) => ({ value })); },
                afterFit: (scale) => { scale.width = 62; },
                ticks: {
                    color: labelColor,
                    font: { family: fontFamily, size: 15 },
                    padding: 5,
                    autoSkip: false,
                    callback: (value) => value.toFixed(2)
                },
                grid: { color: gridColor, lineWidth: 1, tickLength: 5 },
                border: { color: gridColor, width: 1 }
            }
        }
    },
    plugins: [axisArrows]
});

new Chart(document.getElementById('slider'), {
    type: 'scatter',
    data: {
        datasets: [{
            data: [{ x: 0, y: sliderValue }],
            backgroundColor: '#22e622',
            pointStyle: 'circle',
            pointRadius: 5.5,
            borderWidth: 0,
            clip: false
        }]
    },
    options: {
        responsive: false,
        animation: false,
        devicePixelRatio: 1,
        events: [],
        layout: { padding: { top: 29, right: 10, bottom: 43, left: 0 } },
        plugins: {
            legend: { display: false },
            tooltip: { enabled: false }
        },
        scales: {
            x: { type: 'linear', display: false, min: 0, max: 1 },
            y: {
                type: 'linear',
                position: 'left',
                min: 0,
                max: 10,
                afterBuildTicks: (scale) => { scale.ticks = sliderTicks.map((value) => ({ value })); },
                afterFit: (scale) => { scale.width = 72; },
                ticks: {
                    color: labelColor,
                    font: { family: fontFamily, size: 15 },
                    padding: 6,
                    autoSkip: false,
                    callback: (value) => value.toFixed(1)
                },
                grid: { color: '#d2d2d2', lineWidth: 2, tickLength: 10 },
                border: { color: '#d2d2d2', width: 2 }
            }
        }
    },
    plugins: [sliderDecor]
});
</script>
</body>
</html>
